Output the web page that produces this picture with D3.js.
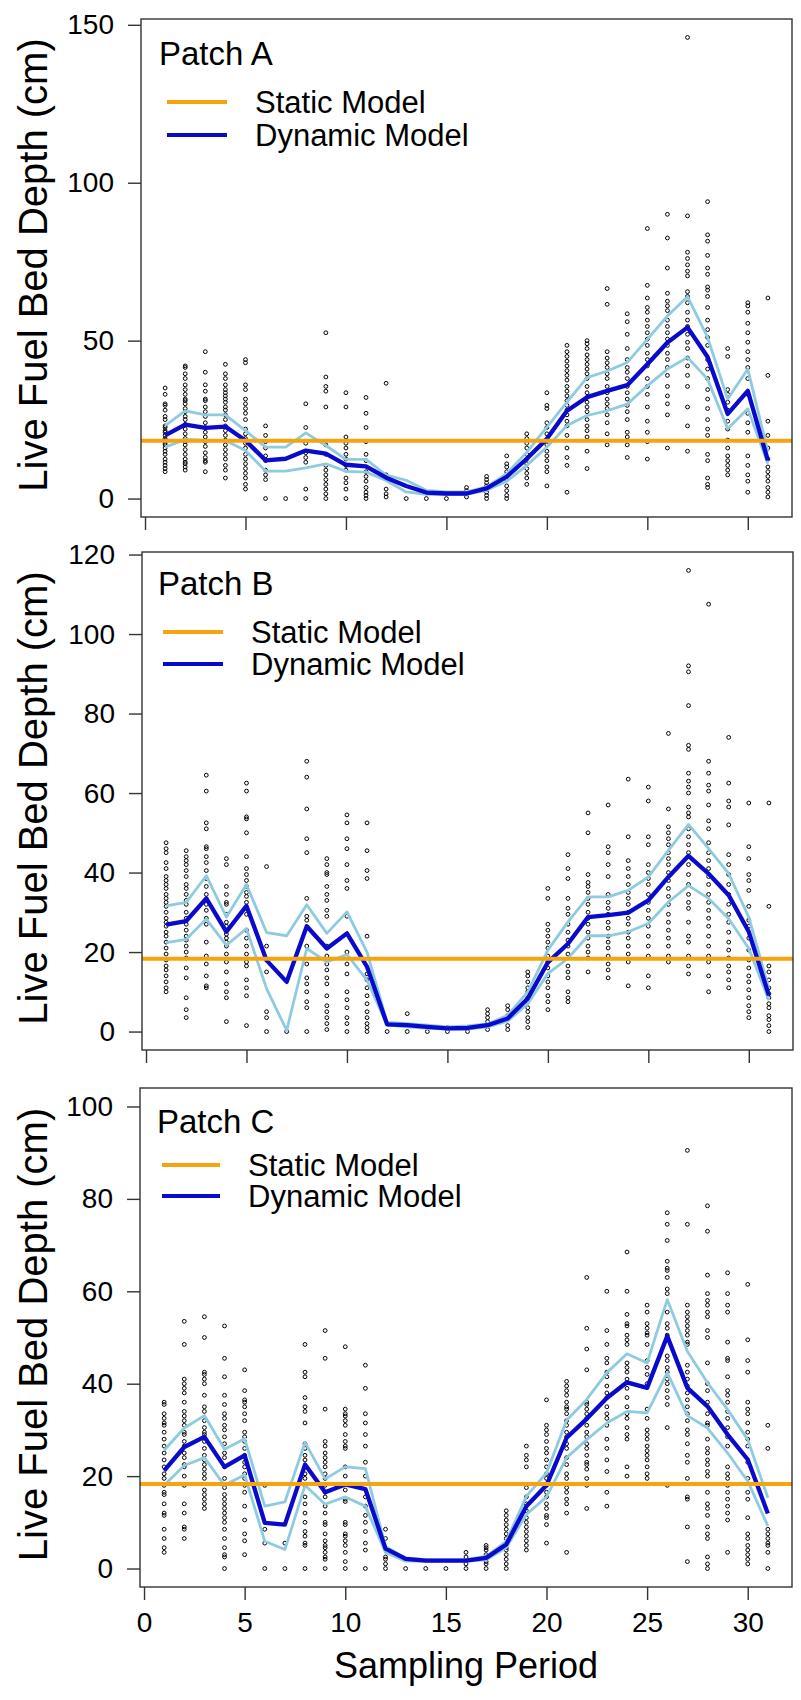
<!DOCTYPE html>
<html>
<head>
<meta charset="utf-8">
<script src="https://cdn.jsdelivr.net/npm/d3@7"></script>
<style>
  html, body { margin: 0; padding: 0; background: #fff; }
  svg { display: block; font-family: "Liberation Sans", Arial, sans-serif; }
</style>
</head>
<body>
<svg id="chart" width="801" height="1700"></svg>
<script>
// Sampling periods 1..31
const periods = d3.range(1, 32);

// Static model prediction (constant depth, cm)
const staticDepth = 18.3;

// ---- Patch A ----
const dynA = [20,23.4,22.4,22.8,18.4,12.1,12.6,15.2,14.2,10.7,10.2,6.6,4,1.9,1.6,1.6,3.2,6.9,12.6,18.9,27.8,32.1,34.1,35.9,42.5,49.4,54.2,44.8,26.8,34.1,12.1];
const upA  = [23.1,27.8,26.5,26.5,21.5,16.3,16.3,20.8,16.8,12.4,12.4,7.4,5.8,2.6,2.1,2.1,3.7,7.9,14.7,22.6,30.5,38.3,40.4,43.1,50.4,57.8,63.9,51,31.5,41,14.8];
const loA  = [16.3,18.7,18.4,18.4,15.2,8.7,8.7,9.7,11,8.6,8.4,5.7,2.1,1.3,1.3,1.3,2.6,5.5,10.5,16.3,23.1,26.3,27.8,29.9,35.7,41,44.7,37.8,22.1,28.4,11];
const obsA = [
  [35,33,30,29.5,28,26,25,23,22.5,21.5,21,20,19,18.5,17.5,17,16,15,14,12.5,11.5,10.5,9.5,8.5],
  [42,41.5,39.5,38,36,34.5,33,31.5,31,30,28.5,27.5,26,25,23.5,22,20.5,19,18,17,15.5,14,12.5,11.5,11,10,9],
  [46.5,40,36,34,31.5,31,29,27.5,26,24,22.5,21,19.5,18,16.5,14.5,13,12,11.5,8.5],
  [42.5,39.5,38,36,34.5,33.5,32.5,31.5,30.5,29,28,26.5,25,23,21.5,20,18.5,17,15.5,14,12.5,10.5,9,6.5],
  [44,43,36,34.5,31.5,30,28.5,27,25,22,20.5,19,17.5,16,14,12.5,11,9.5,8,6.5,4.5,3],
  [23,20,18,16,13.5,12,9,7.5,6,0],
  [0],
  [30,22.5,17.5,14.5,13,11.5,3,0],
  [52.5,38.5,35.5,34,29,17,14,10.5,9,7.5,6,4.5,3,1.5,0],
  [33.5,29,19.5,17.5,16,14,12.5,10.5,9,6.5,5,3,0],
  [32,27,22.5,18,14,12,8.5,7,5.5,3.5,2,1,0],
  [36.5,7.5,3,1.5,0.5],
  [0],
  [0],
  [0],
  [3.5,2.5,1.5,0.5],
  [7,6,5,4,3,2,1,0],
  [13.5,11,10,8.5,7.5,6,4,2.5,1,0],
  [20.5,19,17.5,16,14,12.5,11,9.5,8,6.5,4.5],
  [33.5,29.5,28.5,24,22.5,20.5,18.5,17,15,13.5,12,10,8.5,4],
  [48.5,46.5,45,43.5,42,40.5,39,37.5,35.5,34,32.5,31,29.5,28,26.5,24.5,23,20,16,13,10.5,2],
  [50,49,47.5,45.5,44,42.5,41,39.5,38,35.5,33.5,32,30.5,29,27.5,25,23,21.5,19.5,15,9.5],
  [66.5,61.5,46.5,44.5,43,41.5,39.5,38,35.5,33.5,31.5,30,28.5,26.5,24,20.5,17],
  [58.5,56,52,47.5,44,41.5,40,38,35.5,33.5,31.5,29.5,27.5,25,21,19.5,17,13],
  [85.5,67.5,63.5,60.5,59,56.5,54.5,52.5,50.5,48.5,46,44,42,38,35.5,33,29,24.5,21,18,12.5],
  [90,82.5,73,65,62.5,61,59.5,56.5,54.5,52.5,50.5,48.5,46,44,41.5,39,35.5,32.5,30,26.5,16],
  [146,89.5,78,76,74,72,70.5,65.5,64,62,59,56.5,54.5,52,49.5,47.5,44.5,42,39,35.5,29,23,15],
  [94,83.5,81.5,77,73,71,67,66,64,60.5,56.5,53.5,51,48.5,44,41,38,34.5,31.5,28.5,25,22,20,14,12,6.5,4.5,3.5],
  [47.5,45,34.5,33,30.5,28,24.5,22,18.5,16,13.5,12,10.5,9,7.5],
  [62,61,59,55.5,52.5,49.5,46.5,44,41.5,38,33,27,24,21,13.5,10.5,7.5,5.5,2],
  [63.5,39,24.5,20,16,12.5,10,8.5,7,5.5,3.5,2,0.5]
];

// ---- Patch B ----
const dynB = [26.9,27.8,33.5,25.1,31.6,17.9,12.5,26.5,20.9,24.7,16.3,1.8,1.6,1.2,0.8,0.9,1.6,3.3,8.3,17.4,22.1,28.8,29.3,29.9,33,38.9,44.2,39.7,34.3,25.1,9.1];
const upB  = [31.6,32.5,39.2,28.8,37,24.9,24.1,31.9,24.7,30.1,20,2.3,2,1.6,1.2,1.4,1.9,4.1,10,20.5,27.6,33.9,33.9,35.5,38.9,45.6,52.1,46,39.7,28.8,10.8];
const loB  = [22.4,23.2,28.3,21.7,25.9,10.8,0.3,20.9,17.5,19.4,12.9,1.6,1.2,0.8,0.6,0.6,1.2,2.6,7,14.6,18.4,24.1,24.1,25.1,27.2,32.6,36.7,33.5,28.4,20.9,7.9];
const obsB = [
  [47.5,46,45,42.5,41,39,38,37,36,34.5,33.5,32.5,31.5,30,28.5,27.5,26.5,25,24,22.5,21,19.5,18,16.5,15.5,14,12.5,11,10],
  [45.5,44,43,42,40.5,39,37,36,34.5,33,32,30,28.5,27,25.5,24,23,21.5,20,18.5,16,13.5,8.5,5.5,3.5],
  [64.5,60.5,52.5,51,46.5,46,44,42.5,40.5,38.5,36.5,34.5,32,30.5,28.5,27,22.5,19,17,14,11.5,11],
  [43.5,42,36.5,34.5,32.5,32,29.5,27.5,26.5,24.5,23.5,22.5,21.5,19.5,17.5,15,12,10,8.5,2.5],
  [62.5,60.5,54,53.5,50,44,41,39.5,38,36.5,35,34,32.5,31,29.5,25.5,23.5,21.5,19.5,17.5,16.5,13,11,9,1.5],
  [41.5,21.5,15,5,3.5,0],
  [0],
  [68,64,56,48.5,45,33.5,29,28,21.5,17,13.5,12,10,7.5,6,0],
  [43.5,42,40,39.5,36.5,34.5,33,30.5,29,21.5,19,17,15.5,13.5,12,9,6.5,5,3.5,2,0.5],
  [54.5,52.5,48.5,46,42,38,36,29,20,17,14.5,10,8,6,3.5,2,0],
  [52.5,45.5,40.5,38.5,24,14.5,13,11,9,7,5,3.5,2,1,0],
  [0],
  [4.5,0],
  [0],
  [1,0],
  [1,0],
  [5.5,4.5,3.5,2.5,1.5,0.5],
  [6.5,5.5,4,3,1.5,0.5],
  [15,14,12.5,11,10,8.5,7.5,6,5,3.5,2.5,1],
  [36,33.5,27,25.5,24,22.5,21,19,17.5,16,14,12.5,11,9,7.5,5.5],
  [44.5,41,38.5,33.5,31,29.5,27,25,23,21.5,19.5,16.5,15,13.5,10,8.5,7.5],
  [55,50,39.5,37.5,36.5,35,33.5,32,30,28.5,27,25,23.5,21.5,20,18.5,15],
  [57,46.5,45,42,39,34.5,32.5,31,29.5,27.5,26,24,22.5,21,19,17,15.5,13.5],
  [63.5,49,43,41,39,37,35,33.5,32,30,28.5,27,25,23.5,21.5,19.5,17.5,11.5],
  [61.5,58,49,47,42,40,38.5,37,34.5,32.5,30.5,28.5,26.5,24,21.5,19,14,11],
  [75,56,51.5,50,48.5,47,45,43.5,42,40,38,36,34,32,29.5,27.5,25.5,23.5,21.5,19,17.5],
  [116,92,90.5,82,72,71,65,63,61.5,60,56.5,55,54,51,49,47,45,42,39.5,37,34.5,32.5,31,27.5,24,22.5,19,16.5,14.5],
  [107.5,68,65,62,60.5,57,53,51,47.5,45,43,41,39,37,34.5,32.5,30.5,28.5,26.5,24,21.5,19,17.5,14,10],
  [74,62.5,58,56.5,52,44.5,42,39.5,37,34.5,32,29.5,27.5,25,22.5,20.5,18.5,16.5,15,13,11],
  [57.5,46.5,43.5,39.5,38,35.5,31.5,28,26.5,23.5,20.5,18,16,14,12.5,10.5,8.5,6.5,5,3.5],
  [57.5,31.5,16.5,15,13,11,9.5,8.5,7,6,4,3,1.5,0]
];

// ---- Patch C ----
const dynC = [21.2,26.3,28.5,22,24.5,9.9,9.5,22.5,16.5,18.2,17.2,4.3,2.1,1.7,1.7,1.7,2.3,5.2,13.5,18,28.3,32.4,36.9,40.3,39.1,50.3,39.1,35.1,29,23.6,11.9];
const upC  = [25.6,30.4,33.1,25.8,28.1,13.5,14.4,27.3,19.4,22,21.6,4.8,2.3,1.9,1.9,1.9,2.6,5.9,15.6,20.7,32.1,36.6,42.4,46.5,44.5,58.2,47,40.2,34.4,27.9,15.3];
const loC  = [18,22.3,24,18,20.3,5.9,4.1,18,13.9,15.5,13.5,3.5,1.6,1.6,1.6,1.6,1.9,4.5,11.7,15.5,24,27.9,31.5,34,33.7,42.4,33.1,30.4,25,18.9,9.2];
const obsC = [
  [36,35.5,33.5,32.5,31.5,31,29.5,28,26.5,25,23.5,22,20.5,19.5,18,16.5,16,14,12,11.5,8.5,6.5,4.5,3.5],
  [53.5,48.5,41,40,39,38,36,34,33,32,31,29.5,29,27.5,26.5,25,24,22.5,22,20,18,14,12,9,8.5,6.5],
  [54.5,50,42.5,42,41,40,37.5,35,34,32,30.5,29.5,29,27.5,26,24.5,23.5,22.5,21.5,20.5,19.5,17,16,15,14,13],
  [52.5,45.5,41.5,37.5,35.5,33.5,32.5,31,30,28.5,27,25,24,22,19.5,17.5,16,15,14,13,12,11,10,8.5,6.5,4.5,3,2.5,0],
  [43,38.5,36.5,36,35,33.5,32,29.5,28.5,27.5,26,24.5,23,22,20.5,19.5,18,16.5,13.5,10.5,7.5,6,3],
  [18,8.5,5.5,0],
  [5.5,0],
  [48.5,42.5,41.5,37,35,34,31.5,27,26,24.5,23.5,22,20.5,19.5,18,15.5,14,12,10,8,7,5.5,5,0],
  [51.5,45.5,34.5,27.5,26.5,25,24,23,22,20.5,19.5,18,16.5,15.5,13.5,12,10,9.5,7.5,6,5,4.5,3.5,2.5,2,0],
  [48,34.5,33.5,33,32,31,29,27.5,26.5,26,22,20,17,15,14.5,10,9.5,7.5,7,6,5,3.5,1.5,0],
  [44,39,33.5,31.5,29,26.5,23,20,15.5,13.5,11.5,10,8,5.5,4,0],
  [8.5,6.5,2.5,2,1,0],
  [0],
  [0],
  [0],
  [3.5,2.5,1,0],
  [5,4.5,4,3,2.5,1.5,1,0],
  [12.5,11.5,10.5,9.5,8.5,7.5,6.5,5.5,4.5,4,3,2,1,0],
  [26.5,24.5,23.5,22,17.5,15.5,14,12.5,11,10,9,8,7,6,5,4],
  [36.5,31,30,29,27.5,26,25,23.5,22,20.5,19.5,18,16.5,15.5,14,13,11.5,11,9.5,5.5],
  [40.5,39.5,38.5,37.5,36,35,34.5,33.5,32,31,29.5,28.5,27,26,24,22.5,20.5,19.5,17.5,16.5,15,14,12,3.5],
  [63,52,47.5,43,36,35.5,34.5,33.5,32.5,31,29.5,28.5,27,26,24.5,23,22.5,21.5,19.5,18,13],
  [60,51.5,48.5,45.5,44.5,42.5,41.5,39.5,38,37,35,33.5,32.5,31,28,26,23.5,21,16.5,13.5],
  [68.5,60,55,53,52.5,50.5,49.5,48.5,44.5,43.5,42.5,41,39,37,35,33.5,32.5,30.5,29,28,22,20],
  [57,55.5,53,52,51,50.5,48.5,45,43.5,42,40,34.5,32.5,30,29,28,26.5,25.5,24.5,23.5,22,20.5,19.5],
  [77,74.5,71,66.5,65,64.5,63,60.5,59.5,55.5,53,52,50.5,46,45,43.5,42.5,41,40,38.5,37,35.5,30.5,18],
  [90.5,74.5,57,55.5,54.5,53.5,52.5,51.5,50.5,49,48.5,44,42.5,41,39.5,38,36.5,35,33.5,32,30,29,27,24.5,23,19.5,15.5,15,9,1.5],
  [78.5,73,63.5,59.5,58,57,55.5,54.5,51.5,50,44.5,40,38.5,36,33.5,31.5,31,28,26,25,23.5,22.5,21,20,16.5,14,13,11.5,9,7.5,6.5,2.5,1,0],
  [64,59.5,57,55.5,49,45.5,45,41.5,38.5,37.5,36,34,32.5,30.5,28.5,26.5,22,20.5,19.5,18,16.5,15,13.5,12,10.5,3.5],
  [61.5,49.5,45,42.5,36,34.5,33.5,31.5,29.5,28,26.5,23,19.5,16.5,15,11,7.5,6.5,5,4,3,2,1],
  [31,26,8.5,7.5,6.5,5.5,5,3.5,0]
];

// Axis tick values
const xTicks = [0, 5, 10, 15, 20, 25, 30];
const yTicksA = [0, 50, 100, 150];
const yTicksB = [0, 20, 40, 60, 80, 100, 120];
const yTicksC = [0, 20, 40, 60, 80, 100];

const patchNames = ["Patch A", "Patch B", "Patch C"];
const legendLabels = ["Static Model", "Dynamic Model"];

const colors = {
  static: "#F5A30F",
  dynamic: "#0A0ACD",
  band: "#8FCBE0",
  frame: "#333"
};

// Panel layout: each panel has its own y range (data extent padded by 4%)
const panels = [
  { name: patchNames[0], dyn: dynA, up: upA, lo: loA, obs: obsA, yMax: 146, yTicks: yTicksA,
    top: 19, bottom: 517, left: 141, right: 792, leg: { title: 46, l1: 83, l2: 116, text: 255, line0: 167, line1: 227, tx: 159 } },
  { name: patchNames[1], dyn: dynB, up: upB, lo: loB, obs: obsB, yMax: 116, yTicks: yTicksB,
    top: 552, bottom: 1050, left: 142, right: 793, leg: { title: 43, l1: 80, l2: 112, text: 251, line0: 163, line1: 223, tx: 158 } },
  { name: patchNames[2], dyn: dynC, up: upC, lo: loC, obs: obsC, yMax: 100, yTicks: yTicksC,
    top: 1088, bottom: 1587, left: 140, right: 792, leg: { title: 45, l1: 77, l2: 108, text: 248, line0: 162, line1: 220, tx: 157 } }
];

const svg = d3.select("#chart");

panels.forEach((p, i) => {
  const x = d3.scaleLinear().domain([1 - 1.2, 31 + 1.2]).range([p.left, p.right]);
  const pad = p.yMax * 0.04;
  const y = d3.scaleLinear().domain([-pad, p.yMax + pad]).range([p.bottom, p.top]);

  const g = svg.append("g");

  // observations: open circles
  const pts = [];
  p.obs.forEach((vals, k) => vals.forEach(v => pts.push([periods[k], v])));
  g.append("g").selectAll("circle").data(pts).join("circle")
    .attr("cx", d => x(d[0]))
    .attr("cy", d => y(d[1]))
    .attr("r", 1.9)
    .attr("fill", "none")
    .attr("stroke", "#000")
    .attr("stroke-width", 1);

  const line = arr => d3.line()
    .x((d, k) => x(periods[k]))
    .y(d => y(d))(arr);

  // interval bounds
  [p.up, p.lo].forEach(arr => {
    g.append("path").attr("d", line(arr))
      .attr("fill", "none").attr("stroke", colors.band)
      .attr("stroke-width", 2.8).attr("stroke-linejoin", "round");
  });

  // dynamic model mean
  g.append("path").attr("d", line(p.dyn))
    .attr("fill", "none").attr("stroke", colors.dynamic)
    .attr("stroke-width", 4.3).attr("stroke-linejoin", "round");

  // static model
  g.append("line")
    .attr("x1", p.left).attr("x2", p.right)
    .attr("y1", y(staticDepth)).attr("y2", y(staticDepth))
    .attr("stroke", colors.static).attr("stroke-width", 4);

  // frame
  g.append("rect")
    .attr("x", p.left).attr("y", p.top)
    .attr("width", p.right - p.left).attr("height", p.bottom - p.top)
    .attr("fill", "none").attr("stroke", colors.frame).attr("stroke-width", 1.4);

  // y axis
  const ya = g.append("g").attr("transform", `translate(${p.left},0)`)
    .call(d3.axisLeft(y).tickValues(p.yTicks).tickSize(13).tickPadding(14).tickFormat(d3.format("d")));
  ya.select(".domain").remove();
  ya.selectAll("line").attr("stroke", colors.frame).attr("stroke-width", 1.4);
  ya.selectAll("text").attr("font-size", 28).attr("fill", "#000")
    .attr("font-family", "Liberation Sans, Arial, sans-serif");

  // x axis (tick labels only under the bottom panel)
  const xa = g.append("g").attr("transform", `translate(0,${p.bottom})`)
    .call(d3.axisBottom(x).tickValues(xTicks).tickSize(13).tickPadding(12)
      .tickFormat(d3.format("d")));
  xa.select(".domain").remove();
  xa.selectAll("line").attr("stroke", colors.frame).attr("stroke-width", 1.4);
  if (i < 2) {
    xa.selectAll("text").remove();
  } else {
    xa.selectAll("text").attr("font-size", 28).attr("fill", "#000")
      .attr("font-family", "Liberation Sans, Arial, sans-serif");
  }

  // y title
  g.append("text")
    .attr("transform", `translate(47,${(p.top + p.bottom) / 2 - 3}) rotate(-90)`)
    .attr("text-anchor", "middle")
    .attr("font-size", 40)
    .text("Live Fuel Bed Depth (cm)");

  // patch label + legend
  const L = p.leg;
  g.append("text").attr("x", L.tx).attr("y", p.top + L.title)
    .attr("font-size", 33).text(p.name);
  g.append("line").attr("x1", L.line0).attr("x2", L.line1)
    .attr("y1", p.top + L.l1).attr("y2", p.top + L.l1)
    .attr("stroke", colors.static).attr("stroke-width", 4);
  g.append("line").attr("x1", L.line0).attr("x2", L.line1)
    .attr("y1", p.top + L.l2).attr("y2", p.top + L.l2)
    .attr("stroke", colors.dynamic).attr("stroke-width", 4);
  g.append("text").attr("x", L.text).attr("y", p.top + L.l1 + 11)
    .attr("font-size", 31).text(legendLabels[0]);
  g.append("text").attr("x", L.text).attr("y", p.top + L.l2 + 11)
    .attr("font-size", 31).text(legendLabels[1]);
});

// shared x title
svg.append("text")
  .attr("x", 466).attr("y", 1678)
  .attr("text-anchor", "middle")
  .attr("font-size", 36)
  .text("Sampling Period");
</script>
</body>
</html>
